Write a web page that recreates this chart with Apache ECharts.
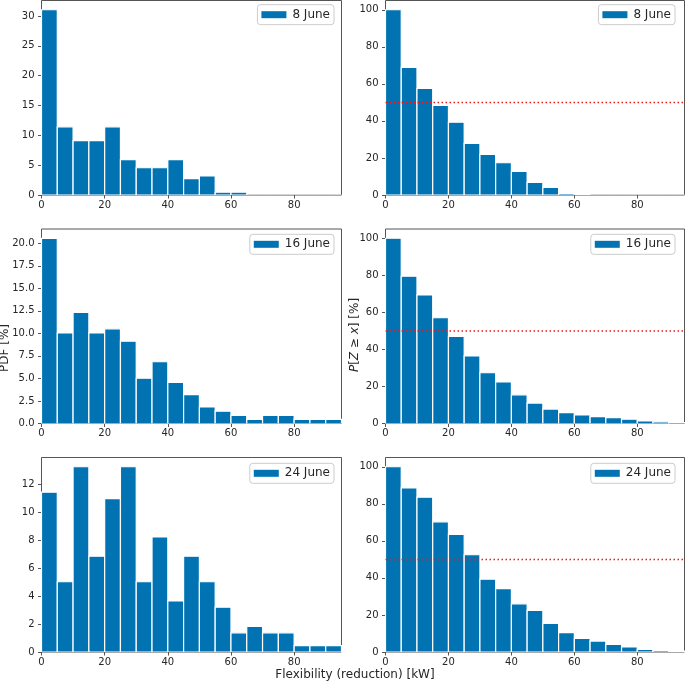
<!DOCTYPE html>
<html>
<head>
<meta charset="utf-8">
<script src="https://cdn.jsdelivr.net/npm/echarts@6/dist/echarts.min.js"></script>
<style>html,body{margin:0;padding:0;background:#fff}#c{width:685px;height:683px}</style>
</head>
<body>
<div id="c"></div>
<script>
// ---- data ----
const binStart = [0,5,10,15,20,25,30,35,40,45,50,55,60,65,70,75,80,85,90];
const binWidth = 5;
const xTicks = [0,20,40,60,80];
const dates = ['8 June','16 June','24 June'];
const pdf8  = [31.05,11.42,9.13,9.13,11.42,5.94,4.57,4.57,5.94,2.74,3.20,0.46,0.46,0,0,0,0,0,0];
const pdf16 = [20.55,10.05,12.33,10.05,10.50,9.13,5.02,6.85,4.57,3.20,1.83,1.37,0.91,0.46,0.91,0.91,0.46,0.46,0.46];
const pdf24 = [11.42,5.02,13.24,6.85,10.96,13.24,5.02,8.22,3.65,6.85,5.02,3.20,1.37,1.83,1.37,1.37,0.46,0.46,0.46];
const ccdf8  = [100,68.9,57.5,48.4,39.3,27.9,21.9,17.4,12.8,6.8,4.1,0.9,0.5,0,0,0,0,0,0];
const ccdf16 = [100,79.5,69.4,57.1,47.0,36.5,27.4,22.4,15.5,11.0,7.8,5.9,4.6,3.7,3.2,2.3,1.4,0.9,0.5];
const ccdf24 = [100,88.6,83.6,70.3,63.5,52.5,39.3,34.2,26.0,22.4,15.5,10.5,7.3,5.9,4.1,2.7,1.4,0.9,0.5];
const pdfTicks = [[0,5,10,15,20,25,30],[0,2.5,5,7.5,10,12.5,15,17.5,20],[0,2,4,6,8,10,12]];
const ccdfTicks = [0,20,40,60,80,100];
const pdfMax = [32.6,21.58,13.9];
const ccdfMax = 105;
const threshold = 50;

// ---- build ----
const FONT = 'DejaVu Sans';
const BLUE = '#0173B2';
const SPINE = '#555';
const TXT = '#262626';
const colLeft = [41.5, 385.5];
const colWidth = [300, 299];
const rowTop = [0.5, 229, 457.5];
const rowH = 194.5;

const pdfs = [pdf8, pdf16, pdf24];
const ccdfs = [ccdf8, ccdf16, ccdf24];

const grids = [], xAxes = [], yAxes = [], series = [], legends = [];
let gi = 0;
for (let r = 0; r < 3; r++) {
  for (let c = 0; c < 2; c++) {
    grids.push({left: colLeft[c], top: rowTop[r], width: colWidth[c], height: rowH,
      show: true, borderColor: SPINE, borderWidth: 1, backgroundColor: 'transparent'});
    xAxes.push({type: 'value', gridIndex: gi, min: 0, max: 95,
      axisLine: {show: false}, splitLine: {show: false},
      axisTick: {show: true, length: 3.5, inside: false, customValues: xTicks, lineStyle: {color: SPINE, width: 1}},
      axisLabel: {customValues: xTicks, margin: 5, fontSize: 10, fontFamily: FONT, color: TXT}});
    const ticks = c === 0 ? pdfTicks[r] : ccdfTicks;
    const dec = (c === 0 && r === 1) ? 1 : 0;
    yAxes.push({type: 'value', gridIndex: gi, min: 0, max: c === 0 ? pdfMax[r] : ccdfMax,
      axisLine: {show: false}, splitLine: {show: false},
      axisTick: {show: true, length: 3.5, inside: false, customValues: ticks, lineStyle: {color: SPINE, width: 1}},
      axisLabel: {customValues: ticks, margin: 7, fontSize: 10, fontFamily: FONT, color: TXT,
        formatter: v => dec ? v.toFixed(1) : String(v)}});
    const vals = c === 0 ? pdfs[r] : ccdfs[r];
    series.push({type: 'custom', name: dates[r], xAxisIndex: gi, yAxisIndex: gi, clip: true,
      itemStyle: {color: BLUE},
      encode: {x: [0, 1], y: 2},
      data: binStart.map((b, i) => [b, b + binWidth, vals[i]]),
      renderItem: function (params, api) {
        const p0 = api.coord([api.value(0), api.value(2)]);
        const p1 = api.coord([api.value(1), 0]);
        return {type: 'rect',
          shape: {x: p0[0], y: p0[1], width: p1[0] - p0[0], height: p1[1] - p0[1]},
          style: {fill: BLUE, stroke: '#fff', lineWidth: 1.2}};
      }});
    if (c === 1) {
      series.push({type: 'line', xAxisIndex: gi, yAxisIndex: gi, symbol: 'none', silent: true,
        data: [[0, threshold], [95, threshold]],
        lineStyle: {color: '#ee1c1c', width: 1.5, type: [1.5, 2.5]}, z: 5});
    }
    const legTop = [4.7, 234.3, 463.3][r];
    legends.push({data: [dates[r]], right: c === 0 ? 351 : 10, top: legTop, orient: 'horizontal',
      icon: 'rect', itemWidth: 25, itemHeight: 7, itemStyle: {borderWidth: 0},
      borderColor: '#ccc', borderWidth: 1, borderRadius: 3, backgroundColor: '#fff',
      padding: [4, 4, 4, 4], selectedMode: false,
      textStyle: {fontSize: 12, fontFamily: FONT, color: TXT, padding: [0, 0, 0, 1]}});
    gi++;
  }
}

const chart = echarts.init(document.getElementById('c'), null, {renderer: 'canvas'});
chart.setOption({
  animation: false,
  backgroundColor: '#fff',
  grid: grids, xAxis: xAxes, yAxis: yAxes, series: series, legend: legends,
  graphic: [
    {type: 'text', x: 5, y: 348, rotation: Math.PI / 2,
      style: {text: 'PDF [%]', fontSize: 12, fontFamily: FONT, fill: TXT, align: 'center', verticalAlign: 'middle'}},
    {type: 'text', x: 355, y: 335, rotation: Math.PI / 2,
      style: {text: '{i|P}[{i|Z} ≥ {i|x}] [%]', fontSize: 12, fontFamily: FONT, fill: TXT, align: 'center', verticalAlign: 'middle',
        rich: {i: {fontStyle: 'italic', fontSize: 12, fontFamily: FONT, fill: TXT}}}},
    {type: 'text', x: 355, y: 675,
      style: {text: 'Flexibility (reduction) [kW]', fontSize: 12, fontFamily: FONT, fill: TXT, align: 'center', verticalAlign: 'middle'}}
  ]
});
</script>
</body>
</html>
